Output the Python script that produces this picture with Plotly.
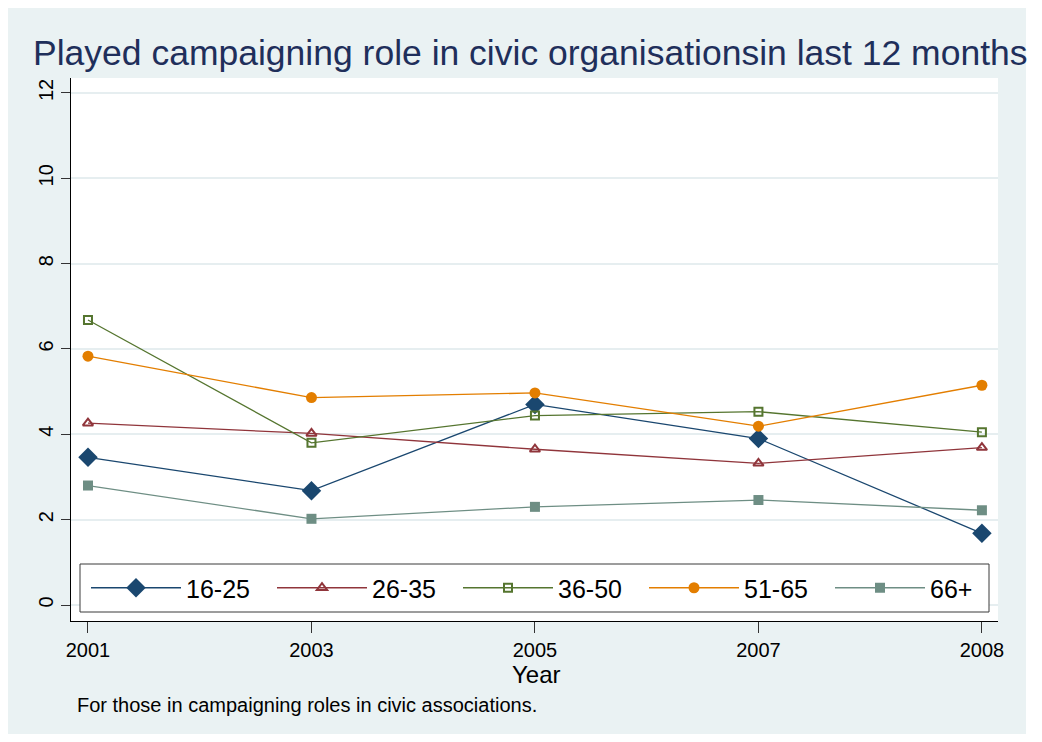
import plotly.graph_objects as go

years = ["2001", "2003", "2005", "2007", "2008"]
g16_25 = [3.46, 2.68, 4.70, 3.90, 1.68]
g26_35 = [4.26, 4.02, 3.65, 3.32, 3.69]
g36_50 = [6.68, 3.80, 4.44, 4.53, 4.05]
g51_65 = [5.83, 4.86, 4.97, 4.19, 5.15]
g66p = [2.80, 2.02, 2.30, 2.46, 2.22]
series_names = ["16-25", "26-35", "36-50", "51-65", "66+"]
y_ticks = [0, 2, 4, 6, 8, 10, 12]

title_text = "Played campaigning role in civic organisationsin last 12 months"
x_title = "Year"
note_text = "For those in campaigning roles in civic associations."

# page is offset by the default body margin (8px); keep figure inside viewport
O = 8
PW, PH = 1042, 742
W, H = PW - 2 * O, PH - 2 * O
L, R, T, B = 71, 998, 78, 621  # plot area in page pixels
pw, ph = R - L, B - T

def px(x):
    return (x - L) / pw

def py(y):
    return (B - y) / ph

styles = [
    dict(color="#1a476f", symbol="diamond", size=15, open=False),
    dict(color="#90353b", symbol="triangle-up-open", size=9, open=True),
    dict(color="#55752f", symbol="square-open", size=8, open=True),
    dict(color="#e37e00", symbol="circle", size=11, open=False),
    dict(color="#6e8e84", symbol="square", size=10, open=False),
]
data = [g16_25, g26_35, g36_50, g51_65, g66p]

fig = go.Figure()
for name, vals, st in zip(series_names, data, styles):
    fig.add_trace(go.Scatter(
        x=years, y=vals, name=name, mode="lines+markers",
        line=dict(color=st["color"], width=1.3),
        marker=dict(symbol=st["symbol"], size=st["size"], color=st["color"],
                    line=dict(color=st["color"], width=2 if st["open"] else 0)),
    ))

shapes = [
    dict(type="rect", xref="paper", yref="paper", layer="below",
         x0=px(6), x1=px(1026), y0=py(737), y1=py(6),
         fillcolor="#eaf2f3", line=dict(width=0)),
    dict(type="rect", xref="paper", yref="paper", layer="below",
         x0=0, x1=1, y0=0, y1=1, fillcolor="white", line=dict(width=0)),
    dict(type="rect", xref="paper", yref="paper", layer="above",
         x0=px(80), x1=px(989), y0=py(612), y1=py(564),
         fillcolor="white", line=dict(color="#3a3a3a", width=1)),
]

annotations = [
    dict(text=title_text, xref="paper", yref="paper", x=px(31), y=py(53),
         xanchor="left", yanchor="middle", showarrow=False,
         font=dict(family="Liberation Sans, Arial", size=35.5, color="#1f2f5b")),
    dict(text=x_title, xref="paper", yref="paper", x=px(536), y=py(674),
         xanchor="center", yanchor="middle", showarrow=False,
         font=dict(family="Liberation Sans, Arial", size=24, color="black")),
    dict(text=note_text, xref="paper", yref="paper", x=px(75), y=py(705),
         xanchor="left", yanchor="middle", showarrow=False,
         font=dict(family="Liberation Sans, Arial", size=20, color="black")),
]

fig.update_layout(
    width=W, height=H,
    margin=dict(l=L - O, r=(W + O) - R, t=T - O, b=(H + O) - B),
    paper_bgcolor="white", plot_bgcolor="white",
    font=dict(family="Liberation Sans, Arial", color="black"),
    shapes=shapes, annotations=annotations,
    showlegend=True,
    legend=dict(orientation="h", x=px(86), y=py(588), xanchor="left", yanchor="middle",
                bgcolor="rgba(0,0,0,0)", borderwidth=0,
                font=dict(size=25, color="black"),
                itemwidth=90, entrywidth=81, entrywidthmode="pixels",
                traceorder="normal"),
)

fig.update_xaxes(type="category", range=[-0.076, 4.072], showgrid=False, zeroline=False,
                 showline=True, linecolor="black", linewidth=1,
                 ticks="outside", ticklen=11, tickcolor="#333", tickwidth=1,
                 tickfont=dict(size=20, color="black"))
fig.update_yaxes(range=[-0.375, 12.35], tickvals=y_ticks, showgrid=True,
                 gridcolor="#e6eef0", gridwidth=2, zeroline=False,
                 showline=True, linecolor="black", linewidth=1,
                 ticks="outside", ticklen=9, tickcolor="#333", tickwidth=1,
                 tickangle=-90, tickfont=dict(size=20, color="black"))

fig.write_html("out.html")
